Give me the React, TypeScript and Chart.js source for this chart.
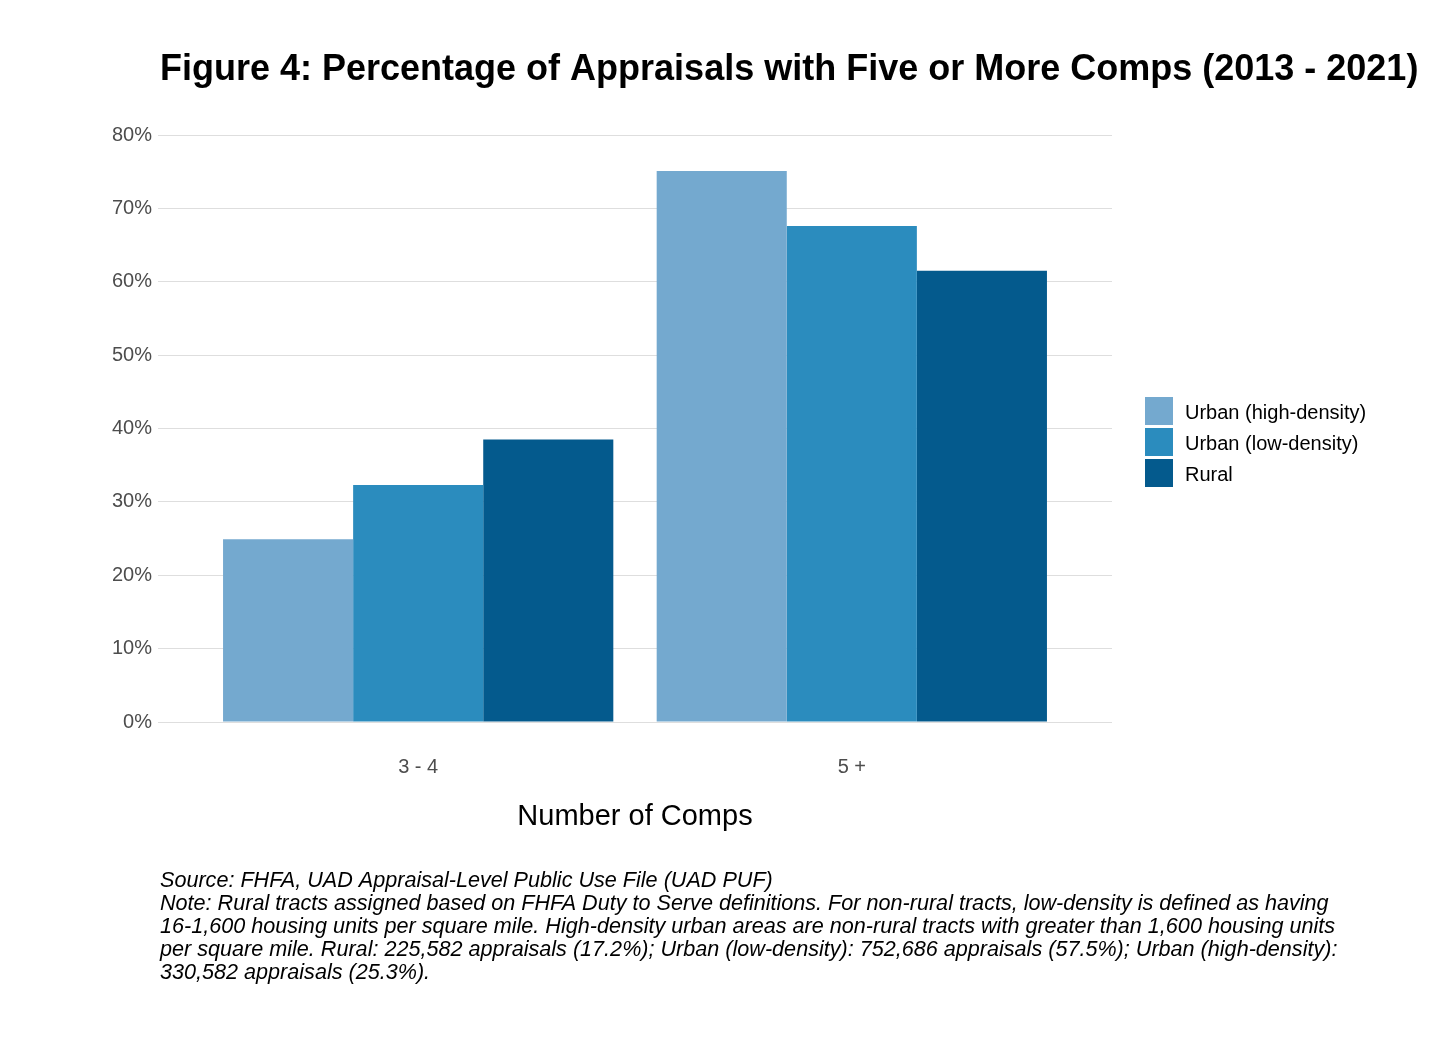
import React, { useEffect, useRef } from 'react';
import { Chart, registerables } from 'chart.js';

Chart.register(...registerables);

// ---- data ----
const categories: string[] = ['3 - 4', '5 +'];
const seriesNames: string[] = ['Urban (high-density)', 'Urban (low-density)', 'Rural'];
const urbanHighDensity: number[] = [24.9, 75.1];
const urbanLowDensity: number[] = [32.3, 67.6];
const rural: number[] = [38.5, 61.5];
const yTickValues: number[] = [0, 10, 20, 30, 40, 50, 60, 70, 80];
const seriesColors: string[] = ['#74A9CF', '#2B8CBE', '#045A8D'];

const titleText = 'Figure 4: Percentage of Appraisals with Five or More Comps (2013 - 2021)';
const xAxisTitle = 'Number of Comps';
const footnoteLines: string[] = [
  'Source: FHFA, UAD Appraisal-Level Public Use File (UAD PUF)',
  'Note: Rural tracts assigned based on FHFA Duty to Serve definitions. For non-rural tracts, low-density is defined as having',
  '16-1,600 housing units per square mile. High-density urban areas are non-rural tracts with greater than 1,600 housing units',
  'per square mile. Rural: 225,582 appraisals (17.2%); Urban (low-density): 752,686 appraisals (57.5%); Urban (high-density):',
  '330,582 appraisals (25.3%).',
];

const FONT = '"Liberation Sans", Arial, Helvetica, sans-serif';
const W = 1429;
const H = 1039;

const toPoints = (vals: number[]) => vals.map((v, i) => ({ x: i + 1, y: v }));

const decorPlugin = {
  id: 'decor',
  afterDraw(chart: any) {
    const { ctx, chartArea } = chart;
    ctx.save();
    // Title
    ctx.fillStyle = '#000000';
    ctx.font = `bold 36px ${FONT}`;
    ctx.textAlign = 'left';
    ctx.textBaseline = 'alphabetic';
    ctx.fillText(titleText, chartArea.left + 2, 80);

    // Legend
    const legendX = chartArea.right + 33;
    const legendTop = chartArea.top + 262;
    const box = 28;
    const step = 31;
    ctx.font = `20px ${FONT}`;
    ctx.textBaseline = 'middle';
    seriesNames.forEach((name, i) => {
      const y = legendTop + i * step;
      ctx.fillStyle = seriesColors[i];
      ctx.fillRect(legendX, y, box, box);
      ctx.fillStyle = '#000000';
      ctx.fillText(name, legendX + box + 12, y + box / 2 + 2);
    });

    // Footnote
    ctx.font = `italic 21.6px ${FONT}`;
    ctx.fillStyle = '#000000';
    ctx.textBaseline = 'middle';
    footnoteLines.forEach((line, i) => {
      ctx.fillText(line, chartArea.left + 2, chartArea.bottom + 159 + i * 23);
    });
    ctx.restore();
  },
};

export default function App() {
  const canvasRef = useRef<HTMLCanvasElement | null>(null);

  useEffect(() => {
    const canvas = canvasRef.current;
    if (!canvas) return;
    const chart = new Chart(canvas, {
      type: 'bar',
      data: {
        datasets: [
          { label: seriesNames[0], data: toPoints(urbanHighDensity), backgroundColor: seriesColors[0] },
          { label: seriesNames[1], data: toPoints(urbanLowDensity), backgroundColor: seriesColors[1] },
          { label: seriesNames[2], data: toPoints(rural), backgroundColor: seriesColors[2] },
        ],
      } as any,
      options: {
        animation: false,
        responsive: false,
        devicePixelRatio: 1,
        layout: { padding: { top: 135, left: 0, right: 317, bottom: 205 } },
        datasets: { bar: { categoryPercentage: 0.9, barPercentage: 1.0 } },
        plugins: {
          legend: { display: false },
          title: { display: false },
          tooltip: { enabled: false },
        },
        scales: {
          x: {
            type: 'linear',
            offset: false,
            bounds: 'data',
            min: 0.4,
            max: categories.length + 0.6,
            grid: { display: false, drawTicks: false, offset: false },
            border: { display: false },
            afterBuildTicks: (scale: any) => {
              scale.ticks = categories.map((_, i) => ({ value: i + 1 }));
            },
            afterFit: (scale: any) => {
              scale.height = 112;
            },
            ticks: {
              padding: 33,
              color: '#4D4D4D',
              font: { family: FONT, size: 20 },
              callback: (v: any) => categories[Math.round(Number(v)) - 1] ?? '',
            },
            title: {
              display: true,
              text: xAxisTitle,
              color: '#000000',
              font: { family: FONT, size: 29 },
              padding: { top: 0, bottom: 0 },
            },
          },
          y: {
            min: yTickValues[0],
            max: yTickValues[yTickValues.length - 1],
            afterBuildTicks: (scale: any) => {
              scale.ticks = yTickValues.map((v) => ({ value: v }));
            },
            afterFit: (scale: any) => {
              scale.width = 158;
            },
            grid: { color: '#DEDEDE', lineWidth: 1, drawTicks: false },
            border: { display: false },
            ticks: {
              padding: 6,
              color: '#4D4D4D',
              font: { family: FONT, size: 20 },
              callback: (v: any) => `${v}%`,
            },
          },
        },
      } as any,
      plugins: [decorPlugin],
    });
    return () => chart.destroy();
  }, []);

  return (
    <div style={{ position: 'absolute', left: 0, top: 0, width: W, height: H, background: '#ffffff' }}>
      <canvas ref={canvasRef} width={W} height={H} style={{ display: 'block', width: W, height: H }} />
    </div>
  );
}
